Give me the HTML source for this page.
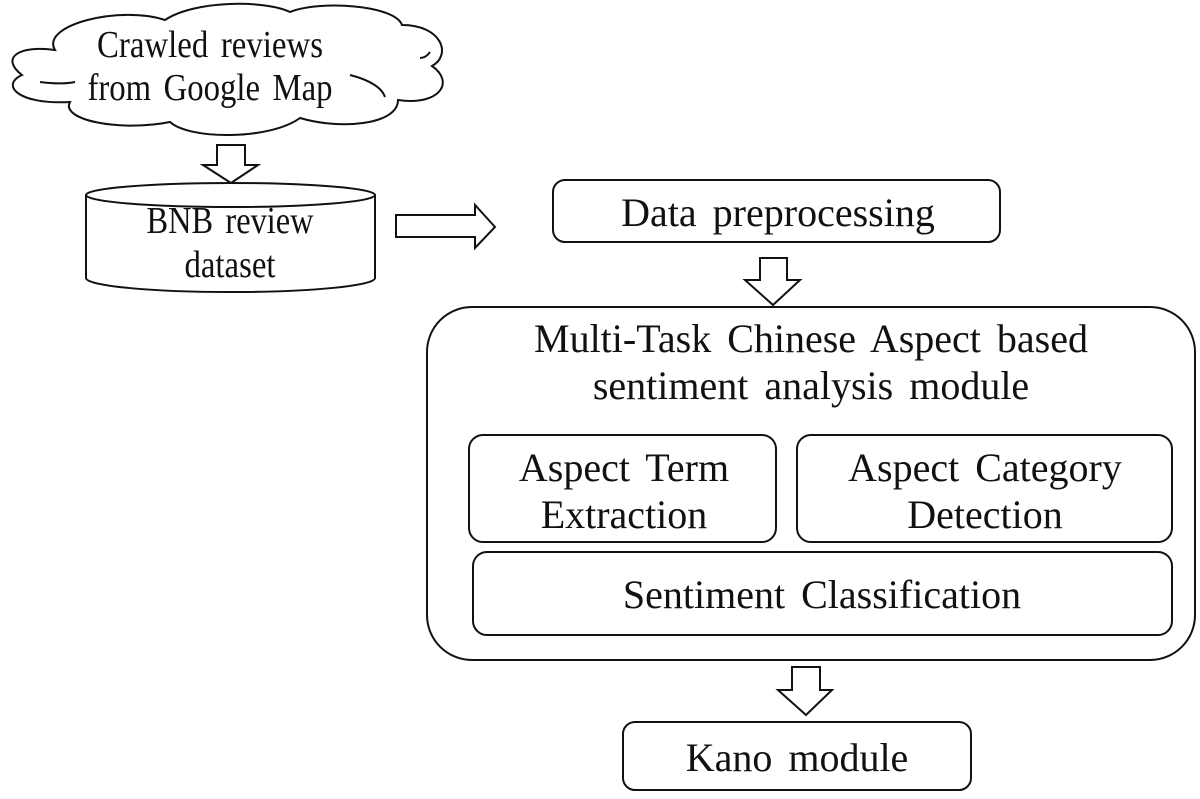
<!DOCTYPE html>
<html><head><style>
body{margin:0;background:#fff;}
svg text{font-family:"Liberation Serif",serif;font-size:40px;fill:#111;stroke:none;text-anchor:middle;word-spacing:6px;}
svg text.s{font-size:38px;word-spacing:5px;}
</style></head><body>
<svg width="1200" height="794" viewBox="0 0 1200 794" fill="none" stroke="#111" stroke-width="2">
<!-- cloud -->
<path d="M55,50 C40,25 120,5 165,20 C195,0 265,0 290,12 C320,0 395,5 402,25 C442,25 452,55 432,66 C455,82 440,106 398,100 C398,125 340,130 300,118 C270,140 190,140 170,122 C120,132 60,120 70,102 C18,105 0,85 22,75 C0,58 18,45 55,50 Z" fill="#fff"/>
<path d="M75,82 C65,84 55,84 40,82 M350,75 C370,80 382,88 385,97 M420,58 C425,58 428,55 430,52" />
<text class="s" x="210" y="57" textLength="226" lengthAdjust="spacingAndGlyphs">Crawled reviews</text>
<text class="s" x="210" y="100" textLength="245" lengthAdjust="spacingAndGlyphs">from Google Map</text>
<!-- arrow down 1 -->
<polygon points="217,145 245,145 245,165 258,165 231,183 203,165 217,165" fill="#fff"/>
<!-- cylinder -->
<path d="M86,195 L86,278 A144,14 0 0 0 375,278 L375,195" fill="#fff"/>
<ellipse cx="230.5" cy="195" rx="144.5" ry="12" fill="#fff"/>
<text class="s" x="230" y="233" textLength="167" lengthAdjust="spacingAndGlyphs">BNB review</text>
<text class="s" x="230" y="277" textLength="91" lengthAdjust="spacingAndGlyphs">dataset</text>
<!-- arrow right -->
<polygon points="396,215 475,215 475,205 495,227 475,248 475,237 396,237" fill="#fff"/>
<!-- data preprocessing -->
<rect x="553" y="180" width="447" height="62" rx="12" fill="#fff"/>
<text x="778" y="226">Data preprocessing</text>
<!-- arrow down 2 -->
<polygon points="760,258 787,258 787,280 800,280 773,305 745,280 760,280" fill="#fff"/>
<!-- big box -->
<rect x="427" y="307" width="768" height="353" rx="45" fill="#fff"/>
<text x="811" y="352">Multi-Task Chinese Aspect based</text>
<text x="811" y="399">sentiment analysis module</text>
<rect x="469" y="435" width="307" height="107" rx="14"/>
<text x="624" y="481">Aspect Term</text>
<text x="624" y="528">Extraction</text>
<rect x="797" y="435" width="375" height="107" rx="14"/>
<text x="985" y="481">Aspect Category</text>
<text x="985" y="528">Detection</text>
<rect x="473" y="552" width="699" height="83" rx="14"/>
<text x="822" y="608">Sentiment Classification</text>
<!-- arrow down 3 -->
<polygon points="792,667 820,667 820,690 832,690 806,715 778,690 792,690" fill="#fff"/>
<!-- kano -->
<rect x="623" y="722" width="348" height="68" rx="12" fill="#fff"/>
<text x="797" y="771">Kano module</text>
</svg>
</body></html>
